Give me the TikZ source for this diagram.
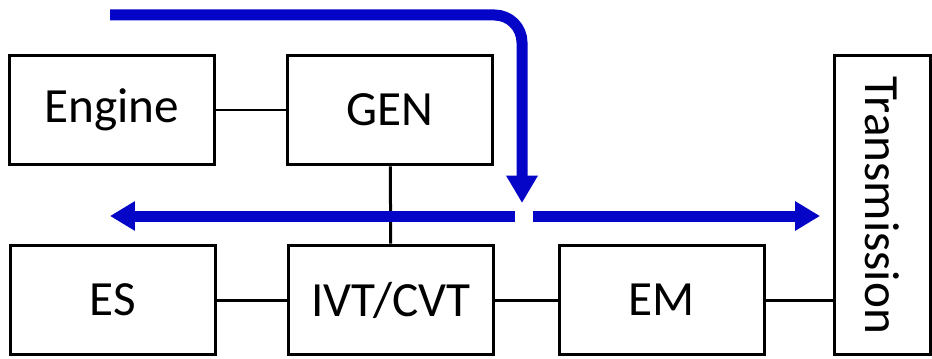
\documentclass[tikz,border=0pt]{standalone}
\usepackage{fontspec}
\setmainfont{Carlito}
\usepackage{xcolor}
\usepackage{tikz}
\usetikzlibrary{arrows.meta,positioning,calc}
\definecolor{FlowBlue}{RGB}{5,5,200}

\begin{document}
\begin{tikzpicture}[
  x=0.02cm,y=-0.02cm,
  block/.style={draw,line width=0.06cm,minimum width=4.1cm,minimum height=2.2cm,align=center,inner sep=0pt,font=\fontsize{28}{30}\selectfont},
  link/.style={line width=0.06cm},
  flow/.style={-{Triangle[length=0.55cm,width=0.6cm]},line width=0.22cm,FlowBlue}
]
\useasboundingbox (0,0) rectangle (932,358);
\node[block] (engine) at (112,110) {Engine};
\node[block] (gen) at (390,110) {GEN};
\node[block] (es) at (113,300) {ES};
\node[block] (ivt) at (391,300) {IVT/CVT};
\node[block] (em) at (662,300) {EM};
\node[block,rotate=-90,minimum width=6cm,minimum height=1.92cm] (trans) at (882,205) {Transmission};
\draw[link] (engine)--(gen);
\draw[link] (gen)--(ivt);
\draw[link] (es)--(ivt);
\draw[link] (ivt)--(em);
\draw[link] (em.east)--(em.east -| trans.south);
% power flow
\coordinate (src) at (110,15);
\coordinate (drop) at (522,203);
\coordinate (splitL) at (515,216);
\coordinate (splitR) at (533,216);
\coordinate (tipL) at (110,216);
\coordinate (tipR) at (820,216);
\draw[flow,rounded corners=0.55cm] (src) -| (drop);
\draw[flow,-{Triangle[length=0.5cm,width=0.56cm]}] (splitL)--(tipL);
\draw[flow,-{Triangle[length=0.5cm,width=0.56cm]}] (splitR)--(tipR);
\end{tikzpicture}
\end{document}
